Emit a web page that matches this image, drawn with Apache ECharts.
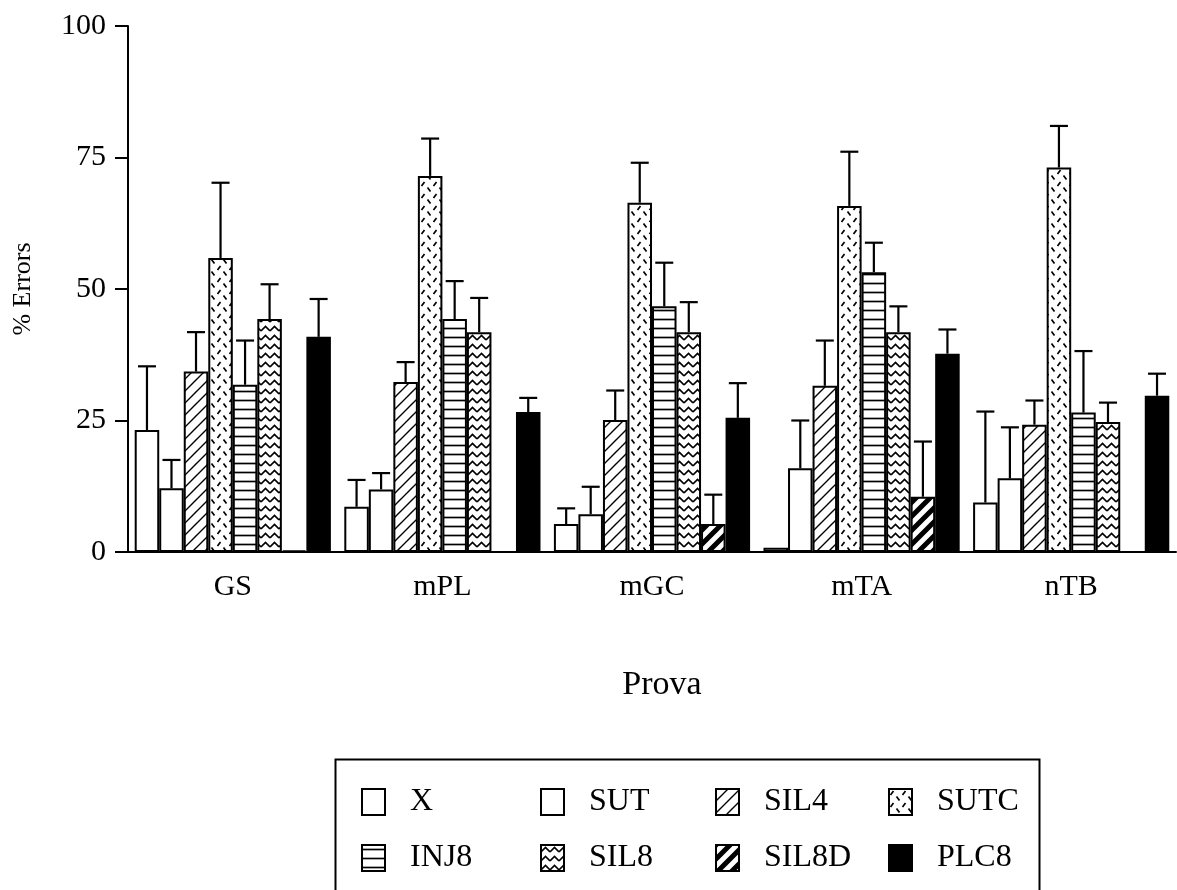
<!DOCTYPE html>
<html>
<head>
<meta charset="utf-8">
<script src="https://cdn.jsdelivr.net/npm/echarts@6/dist/echarts.min.js"></script>
<style>
  html, body { margin: 0; padding: 0; background: #fff; }
  #chart { width: 1177px; height: 890px; }
</style>
</head>
<body>
<div id="chart"></div>
<script>
// Test sessions (x axis)
const categories = ['GS', 'mPL', 'mGC', 'mTA', 'nTB'];
// Treatment groups, in bar order
const groupNames = ['X', 'SUT', 'SIL4', 'SUTC', 'INJ8', 'SIL8', 'SIL8D', 'PLC8'];

// Mean % errors per group, one value per session
const meanX     = [23.2,  8.6,  5.3,  0.8,  9.4];
const meanSUT   = [12.1, 11.9,  7.2, 15.9, 14.0];
const meanSIL4  = [34.3, 32.3, 25.1, 31.6, 24.2];
const meanSUTC  = [55.9, 71.5, 66.4, 65.8, 73.1];
const meanINJ8  = [31.8, 44.3, 46.7, 53.2, 26.5];
const meanSIL8  = [44.3, 41.8, 41.8, 41.8, 24.7];
const meanSIL8D = [ 0.3,  0.0,  5.3, 10.5,  0.0];
const meanPLC8  = [40.9, 26.6, 25.5, 37.7, 29.7];

// Upper error (SEM) per group, one value per session
const errX     = [12.1,  5.1,  3.0,  0.0, 17.3];
const errSUT   = [ 5.4,  3.1,  5.2,  9.1,  9.7];
const errSIL4  = [ 7.5,  3.8,  5.6,  8.6,  4.6];
const errSUTC  = [14.3,  7.1,  7.6, 10.3,  7.9];
const errINJ8  = [ 8.4,  7.2,  8.3,  5.6, 11.7];
const errSIL8  = [ 6.6,  6.5,  5.7,  4.9,  3.7];
const errSIL8D = [ 0.0,  0.0,  5.6, 10.5,  0.0];
const errPLC8  = [ 7.2,  2.7,  6.6,  4.6,  4.2];

// Y axis ticks
const yMin = 0, yMax = 100, yStep = 25;

const means = [meanX, meanSUT, meanSIL4, meanSUTC, meanINJ8, meanSIL8, meanSIL8D, meanPLC8];
const errs  = [errX, errSUT, errSIL4, errSUTC, errINJ8, errSIL8, errSIL8D, errPLC8];

const FONT = "'Liberation Serif', 'Times New Roman', serif";
const GAP_RATIO = 0.064;

// ---- monochrome fill patterns ----
function pattern(w, h, draw) {
  const c = document.createElement('canvas');
  c.width = w; c.height = h;
  const ctx = c.getContext('2d');
  ctx.fillStyle = '#fff';
  ctx.fillRect(0, 0, w, h);
  ctx.strokeStyle = '#000';
  ctx.fillStyle = '#000';
  ctx.lineCap = 'butt';
  draw(ctx, w, h);
  return { image: c, repeat: 'repeat' };
}
function diag(ctx, s) {
  ctx.beginPath();
  ctx.moveTo(-2, s + 2); ctx.lineTo(s + 2, -2);
  ctx.moveTo(-2, 2); ctx.lineTo(2, -2);
  ctx.moveTo(s - 2, s + 2); ctx.lineTo(s + 2, s - 2);
  ctx.stroke();
}
const fills = [
  '#ffffff',
  '#ffffff',
  pattern(12, 12, (ctx) => { ctx.lineWidth = 1.4; diag(ctx, 12); }),
  pattern(12, 12, (ctx) => {
    ctx.lineWidth = 1.7;
    ctx.beginPath();
    ctx.moveTo(1.5, 6); ctx.lineTo(4.5, 2);
    ctx.moveTo(7.5, 7.5); ctx.lineTo(10.5, 11.5);
    ctx.stroke();
  }),
  pattern(8, 9, (ctx) => {
    ctx.lineWidth = 1.7;
    ctx.beginPath(); ctx.moveTo(0, 4.5); ctx.lineTo(8, 4.5); ctx.stroke();
  }),
  pattern(9, 9, (ctx) => {
    ctx.lineWidth = 1.6;
    ctx.beginPath();
    ctx.moveTo(0, 7); ctx.lineTo(4.5, 2.5); ctx.lineTo(9, 7);
    ctx.stroke();
  }),
  pattern(14, 14, (ctx) => { ctx.lineWidth = 5; diag(ctx, 14); }),
  '#000000'
];

// ---- bar series ----
const barSeries = groupNames.map((name, k) => ({
  name: name,
  type: 'bar',
  data: means[k],
  barGap: '0%',
  barCategoryGap: (GAP_RATIO * 100) + '%',
  itemStyle: { color: fills[k], borderColor: '#000', borderWidth: 2 },
  emphasis: { disabled: true },
  animation: false,
  z: 2
}));

// ---- error bars (upper whisker with cap) ----
const errData = [];
groupNames.forEach((name, k) => {
  categories.forEach((c, i) => {
    errData.push([i, means[k][i], errs[k][i], k]);
  });
});

const errSeries = {
  type: 'custom',
  name: 'err',
  data: errData,
  encode: { x: 0, y: 1 },
  animation: false,
  z: 5,
  renderItem: function (params, api) {
    const cat = api.value(0), m = api.value(1), e = api.value(2), k = api.value(3);
    if (!(e > 0)) return null;
    const band = api.size([1, 0])[0];
    const inner = band * (1 - GAP_RATIO);
    const bw = inner / groupNames.length;
    const cx = api.coord([cat, 0])[0] - inner / 2 + (k + 0.5) * bw;
    const yTop = api.coord([cat, m])[1];
    const yErr = api.coord([cat, m + e])[1];
    const half = 9;
    const st = { stroke: '#000', lineWidth: 2.2 };
    return {
      type: 'group',
      children: [
        { type: 'line', shape: { x1: cx, y1: yTop, x2: cx, y2: yErr }, style: st },
        { type: 'line', shape: { x1: cx - half, y1: yErr, x2: cx + half, y2: yErr }, style: st }
      ]
    };
  }
};

// ---- legend: 4 columns x 2 rows inside a framed box ----
const legendCols = [356, 535, 710, 883];
const legendRows = [781, 837];
const legends = groupNames.map((name, k) => ({
  data: [name],
  left: legendCols[k % 4],
  top: legendRows[Math.floor(k / 4)],
  orient: 'horizontal',
  icon: 'rect',
  itemWidth: 23,
  itemHeight: 26,
  selectedMode: false,
  textStyle: { fontFamily: FONT, fontSize: 32, color: '#000', padding: [0, 0, 0, 20] }
}));

const chart = echarts.init(document.getElementById('chart'), null, { renderer: 'canvas' });
chart.setOption({
  backgroundColor: '#fff',
  animation: false,
  grid: { left: 128, right: 1, top: 26, bottom: 338, containLabel: false },
  xAxis: {
    type: 'category',
    data: categories,
    name: 'Prova',
    nameLocation: 'middle',
    nameGap: 116,
    nameTextStyle: { fontFamily: FONT, fontSize: 34, color: '#000', padding: [0, 0, 0, 20] },
    axisLine: { lineStyle: { color: '#000', width: 2 } },
    axisTick: { show: false },
    axisLabel: { fontFamily: FONT, fontSize: 30, color: '#000', margin: 20 },
    splitLine: { show: false }
  },
  yAxis: {
    type: 'value',
    min: yMin, max: yMax, interval: yStep,
    name: '% Errors',
    nameLocation: 'middle',
    nameRotate: 90,
    nameGap: 92,
    nameTextStyle: { fontFamily: FONT, fontSize: 26, color: '#000' },
    axisLine: { show: true, lineStyle: { color: '#000', width: 2 } },
    axisTick: { show: true, length: 13, lineStyle: { color: '#000', width: 2 } },
    axisLabel: { fontFamily: FONT, fontSize: 30, color: '#000', margin: 22 },
    splitLine: { show: false }
  },
  legend: legends,
  graphic: [{
    type: 'rect',
    left: 333, top: 757,
    shape: { width: 704, height: 200 },
    style: { fill: 'none', stroke: '#000', lineWidth: 2 },
    silent: true
  }],
  series: barSeries.concat([errSeries])
});
</script>
</body>
</html>
